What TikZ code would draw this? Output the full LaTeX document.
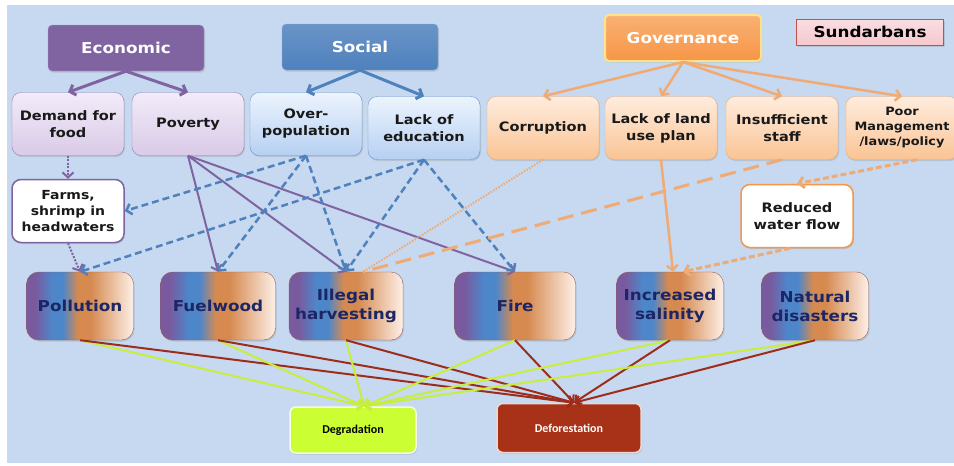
\documentclass[tikz,border=0pt]{standalone}
\usepackage{fontspec}
\setmainfont{DejaVu Sans}[FakeStretch=1.12]
\newfontfamily\narrowfont{Carlito}
\usetikzlibrary{arrows.meta,shadows}

\definecolor{sky}{RGB}{198,217,240}
\definecolor{ecoPurple}{RGB}{128,100,162}
\definecolor{ecoTop}{RGB}{242,235,248}
\definecolor{ecoBot}{RGB}{217,202,232}
\definecolor{ecoLine}{RGB}{150,130,180}
\definecolor{socBlue}{RGB}{79,129,189}
\definecolor{socTop}{RGB}{236,244,253}
\definecolor{socBot}{RGB}{182,208,242}
\definecolor{socLine}{RGB}{110,150,205}
\definecolor{govOrange}{RGB}{247,150,70}
\definecolor{govTop}{RGB}{254,236,222}
\definecolor{govBot}{RGB}{250,196,148}
\definecolor{govLine}{RGB}{240,170,115}
\definecolor{govGlow}{RGB}{255,226,140}
\definecolor{tagPink}{RGB}{246,200,206}
\definecolor{tagRed}{RGB}{192,80,77}
\definecolor{effPurple}{RGB}{122,90,158}
\definecolor{effBlue}{RGB}{78,134,202}
\definecolor{effOrange}{RGB}{214,138,80}
\definecolor{effPale}{RGB}{253,240,232}
\definecolor{effLine}{RGB}{150,95,90}
\definecolor{navy}{RGB}{28,38,100}
\definecolor{degGreen}{RGB}{204,255,51}
\definecolor{degLine}{RGB}{200,238,60}
\definecolor{defRed}{RGB}{168,50,24}
\definecolor{defLine}{RGB}{158,44,26}

% purple -> blue -> orange -> pale, across the box
\pgfdeclarehorizontalshading{effectfill}{100bp}{color(0bp)=(effPurple); color(25bp)=(effPurple);
  color(29bp)=(effPurple); color(37bp)=(effBlue); color(42bp)=(effBlue); color(49bp)=(effOrange);
  color(55bp)=(effOrange); color(75bp)=(effPale); color(100bp)=(effPale)}

\begin{document}
\begin{tikzpicture}[x=1pt, y=-1pt,
    shade/.style={drop shadow={opacity=0.25, shadow xshift=1pt, shadow yshift=-1.5pt}},
    catbox/.style={shade, rounded corners=4pt, text=white, minimum width=156pt, minimum height=46pt,
      font=\bfseries\fontsize{15}{17}\selectfont},
    cause/.style={shade, rounded corners=9pt, align=center, inner sep=2pt, minimum width=112pt,
      minimum height=63pt, text=black!90, font=\bfseries\fontsize{13}{17}\selectfont},
    ecobox/.style={cause, draw=ecoLine, top color=ecoTop, bottom color=ecoBot},
    socbox/.style={cause, draw=socLine, top color=socTop, bottom color=socBot},
    govbox/.style={cause, draw=govLine, top color=govTop, bottom color=govBot},
    plainbox/.style={cause, fill=white, line width=1.5pt},
    effect/.style={shade, rounded corners=12pt, draw=effLine, shading=effectfill, align=center,
      minimum height=68pt, text=navy, font=\bfseries\fontsize{15}{19}\selectfont},
    result/.style={shade, rounded corners=6pt, line width=1.5pt, font=\narrowfont\bfseries\fontsize{12}{14}\selectfont},
    barb/.style={-{Straight Barb[length=5pt,width=11pt]}},
    ecoarrow/.style={barb, draw=ecoPurple, line width=3pt},
    socarrow/.style={barb, draw=socBlue, line width=3pt},
    govarrow/.style={barb, draw=govLine, line width=2.5pt},
    povline/.style={barb, draw=ecoPurple, line width=2pt},
    ecodot/.style={barb, draw=ecoPurple, line width=2pt, dash pattern=on 2pt off 1.5pt},
    socdash/.style={barb, draw=socBlue, line width=2.5pt, dash pattern=on 7pt off 4pt},
    govdot/.style={draw=govLine, line width=2pt, dash pattern=on 1.5pt off 1.5pt},
    govlongdash/.style={draw=govLine, line width=3pt, dash pattern=on 16pt off 8pt},
    govline/.style={barb, draw=govLine, line width=2.5pt},
    govdash/.style={barb, draw=govLine, line width=3pt, dash pattern=on 6pt off 3pt},
    degarrow/.style={barb, draw=degLine, line width=2pt},
    defarrow/.style={barb, draw=defLine, line width=2pt}]

  \useasboundingbox (0,0) rectangle (954,466);
  \fill[sky] (7,5) rectangle (954,463);
  \clip (7,5) rectangle (954,463);

  % categories
  \node[catbox, draw=ecoPurple!60, fill=ecoPurple] (eco) at (126,48) {Economic};
  \node[catbox, draw=socBlue!60, top color=socBlue!85, bottom color=socBlue] (soc) at (360,47) {Social};
  \node[catbox, draw=govGlow, line width=2pt, top color=govOrange!75, bottom color=govOrange] (gov) at (683,38) {Governance};
  \node[shade, draw=tagRed, top color=tagPink!60, bottom color=tagPink, minimum width=147pt, minimum height=26pt,
    font=\bfseries\fontsize{15}{17}\selectfont] (sun) at (870,32) {Sundarbans};

  % causes
  \node[ecobox] (food) at (68,124) {Demand for\\food};
  \node[ecobox] (pov) at (188,124) {Poverty};
  \node[socbox] (ovp) at (306,124) {Over-\\population};
  \node[socbox] (edu) at (424,128) {Lack of\\education};
  \node[govbox] (corr) at (543,128) {Corruption};
  \node[govbox] (land) at (661,128) {Lack of land\\use plan};
  \node[govbox] (staff) at (782,128) {Insufficient\\staff};
  \node[govbox, font=\bfseries\fontsize{11.5}{15}\selectfont] (mgmt) at (902,128) {Poor\\Management\\/laws/policy};
  \node[plainbox, draw=ecoPurple, font=\bfseries\fontsize{12.5}{16}\selectfont] (farm) at (68,211) {Farms,\\shrimp in\\headwaters};
  \node[plainbox, draw=govOrange] (flow) at (797,216) {Reduced\\water flow};

  % drivers
  \foreach \name/\x/\w/\txt in {pol/80/107/Pollution, fuel/218/115/Fuelwood, ill/346/114/{Illegal\\harvesting},
      fire/515/121/Fire, sal/670/107/{Increased\\salinity}, nat/815/107/{Natural\\disasters}} {
    \node[effect, minimum width=\w pt] (\name) at (\x,306) {\txt};
  }

  % outcomes
  \node[result, draw=white!85!degGreen, fill=degGreen, text=black, minimum width=126pt, minimum height=46pt] (deg) at (353,430) {Degradation};
  \node[result, draw=white!80!defRed, fill=defRed, text=white, minimum width=144pt, minimum height=49pt] (def) at (569,428) {Deforestation};

  % category links
  \draw[ecoarrow] (eco.south) -- (food.north);
  \draw[ecoarrow] (eco.south) -- (pov.north);
  \draw[socarrow] (soc.south) -- (ovp.north);
  \draw[socarrow] (soc.south) -- (edu.north);
  \foreach \t in {corr,land,staff,mgmt}
    \draw[govarrow] (gov.south) -- (\t.north);

  % causes to drivers
  \draw[ecodot] (food.south) -- (farm.north);
  \draw[ecodot] (farm.south) -- (pol.north);
  \foreach \t in {fuel,ill,fire}
    \draw[povline] (pov.south) -- (\t.north);
  \draw[socdash] (ovp.south) -- (farm.east);
  \foreach \t in {fuel,ill}
    \draw[socdash] (ovp.south) -- (\t.north);
  \foreach \t in {pol,ill,fire}
    \draw[socdash] (edu.south) -- (\t.north);
  \draw[govdot] (corr.south) -- ([xshift=17pt]ill.north);
  \draw[govlongdash] (staff.south) -- ([xshift=17pt]ill.north);
  \draw[govline] (land.south) -- ([xshift=3pt]sal.north);
  \draw[govdash] ([xshift=15pt]mgmt.south) -- (flow.north);
  \draw[govdash] ([xshift=-7pt]flow.south) -- ([xshift=13pt]sal.north);

  % drivers to outcomes
  \foreach \s in {pol,fuel,ill,fire,sal,nat} {
    \draw[degarrow] (\s.south) -- ([xshift=11pt]deg.north);
    \draw[defarrow] (\s.south) -- ([xshift=5pt]def.north);
  }
\end{tikzpicture}
\end{document}
